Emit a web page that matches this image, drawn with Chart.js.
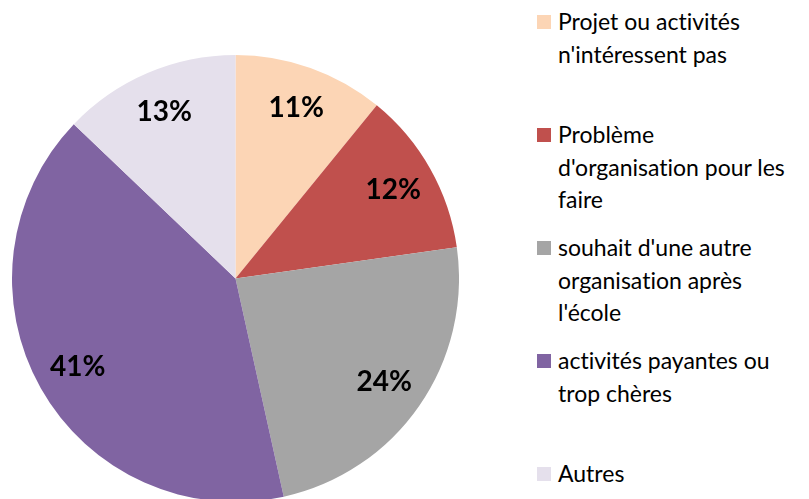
<!DOCTYPE html>
<html>
<head>
<meta charset="utf-8">
<script src="https://cdn.jsdelivr.net/npm/chart.js@4/dist/chart.umd.min.js"></script>
<style>
  html, body { margin: 0; padding: 0; background: #fff; overflow: hidden; }
  body { width: 809px; height: 499px; position: relative; }
  #pieBox { position: absolute; left: 12px; top: 55px; width: 447px; height: 447px; }
  #legend { position: absolute; left: 537px; top: 0; font-family: Lato, sans-serif; font-size: 23px; color: #000;
            font-variant-ligatures: none; }
  .item { position: absolute; left: 0; width: 272px; }
  .swatch { position: absolute; left: 0; width: 14px; height: 14px; }
  .txt { position: absolute; left: 21px; white-space: nowrap; line-height: 32.5px; }
</style>
</head>
<body>
<div id="pieBox"><canvas id="pieChart"></canvas></div>
<div id="legend"></div>
<script>
// category names, split the way the legend wraps them
var categories = [
  ["Projet ou activités", "n'intéressent pas"],
  ["Problème", "d'organisation pour les", "faire"],
  ["souhait d'une autre", "organisation après", "l'école"],
  ["activités payantes ou", "trop chères"],
  ["Autres"]
];
var values = [11, 12, 24, 41, 13];
var colors = ["#FCD5B5", "#C0504D", "#A5A5A5", "#8064A2", "#E5E0EC"];

// percent labels drawn inside the slices
var sliceLabels = {
  id: "sliceLabels",
  afterDatasetsDraw: function(chart) {
    var ctx = chart.ctx;
    var arcs = chart.getDatasetMeta(0).data;
    ctx.save();
    ctx.font = "bold 28px Lato, sans-serif";
    ctx.fillStyle = "#000";
    ctx.textAlign = "center";
    ctx.textBaseline = "middle";
    arcs.forEach(function(arc, i) {
      var p = arc.getProps(["x", "y", "startAngle", "endAngle", "outerRadius"], true);
      var mid = (p.startAngle + p.endAngle) / 2;
      var r = p.outerRadius * 0.81;
      ctx.fillText(values[i] + "%", p.x + Math.cos(mid) * r, p.y + Math.sin(mid) * r);
    });
    ctx.restore();
  }
};

new Chart(document.getElementById("pieChart").getContext("2d"), {
  type: "pie",
  data: {
    labels: categories,
    datasets: [{
      data: values,
      backgroundColor: colors,
      borderWidth: 0
    }]
  },
  options: {
    responsive: true,
    maintainAspectRatio: false,
    animation: false,
    events: [],
    layout: { padding: 0 },
    plugins: {
      legend: { display: false },
      tooltip: { enabled: false }
    }
  },
  plugins: [sliceLabels]
});

// legend on the right, one entry every 113px
var legend = document.getElementById("legend");
categories.forEach(function(lines, i) {
  var item = document.createElement("div");
  item.className = "item";
  item.style.top = (i * 113) + "px";
  var sw = document.createElement("div");
  sw.className = "swatch";
  sw.style.background = colors[i];
  sw.style.top = "15px";
  var t = document.createElement("div");
  t.className = "txt";
  t.style.top = "5px";
  lines.forEach(function(line, j) {
    if (j > 0) t.appendChild(document.createElement("br"));
    t.appendChild(document.createTextNode(line));
  });
  item.appendChild(sw);
  item.appendChild(t);
  legend.appendChild(item);
});
</script>
</body>
</html>
